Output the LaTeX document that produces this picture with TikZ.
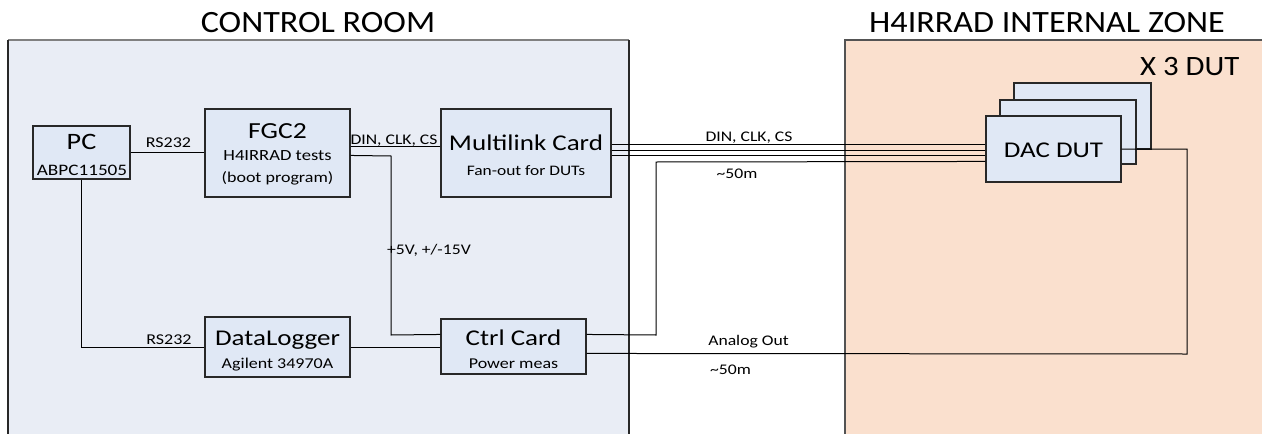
\documentclass[tikz,border=0pt]{standalone}
\usepackage{fontspec}
\setmainfont{Carlito}[FakeStretch=1.2]
\newfontfamily\titlefont{Carlito}[FakeStretch=1.1]
\usetikzlibrary{calc}
\definecolor{roomblue}{RGB}{233,237,245}
\definecolor{boxblue}{RGB}{224,232,245}
\definecolor{zoneorange}{RGB}{250,224,206}
\definecolor{edge}{RGB}{40,40,40}
\newcommand{\fs}[1]{\fontsize{#1}{#1}\selectfont}
\tikzset{
  unit/.style={draw=edge, line width=1.1pt, fill=boxblue, inner sep=0pt},
  wire/.style={draw=black, line width=1pt},
  lbl/.style={inner sep=0pt, anchor=base, font=\fs{14.7}},
  maintxt/.style={inner sep=0pt, anchor=base, font=\fs{22.5}},
  subtxt/.style={inner sep=0pt, anchor=base, font=\fs{15}},
  title/.style={inner sep=0pt, anchor=base, font=\titlefont\fs{31}},
}
\begin{document}
\begin{tikzpicture}[x=1pt,y=-1pt]
\useasboundingbox (0,0) rectangle (1262,434);
\clip (0,0) rectangle (1262,434);
% rooms
\fill[roomblue] (8,40) rectangle (629,440);
\draw[draw=gray, line width=1.2pt] (8,40) -- (629,40);
\draw[draw=edge, line width=1.2pt] (8,440) -- (8,40) (629,40) -- (629,440);
\fill[zoneorange] (845,40) rectangle (1270,440);
\draw[draw=edge!80, line width=1.2pt] (845,440) -- (845,40) -- (1270,40);
\node[title] (t1) at (318,32) {CONTROL ROOM};
\node[title] (t2) at (1047,32) {H4IRRAD INTERNAL ZONE};
\node[inner sep=0pt, font=\titlefont\fs{28}, anchor=base west] (x3) at (1140,75) {X 3 DUT};
% units
\node[unit, minimum width=97pt, minimum height=53pt] (pc) at (81.5,152.5) {};
\node[maintxt, font=\fs{23.5}] (pcT) at (81.5,149) {PC};
\node[subtxt, font=\fs{16}] (pcS) at (82,175) {ABPC11505};
\node[unit, minimum width=145pt, minimum height=88pt] (fgc) at (277.5,153) {};
\node[maintxt, font=\fs{23}] (fgcT) at (277.5,138) {FGC2};
\node[subtxt, font=\fs{15.5}] (fgcS) at (277.5,160) {H4IRRAD tests};
\node[subtxt] (fgcS2) at (277.5,182) {(boot program)};
\node[unit, minimum width=170pt, minimum height=88pt] (ml) at (526,153) {};
\node[maintxt] (mlT) at (526,150) {Multilink Card};
\node[subtxt, font=\fs{14.5}] (mlS) at (526,175) {Fan-out for DUTs};
\node[unit, minimum width=145pt, minimum height=60pt] (dl) at (277.5,347) {};
\node[maintxt] (dlT) at (277.5,345) {DataLogger};
\node[subtxt] (dlS) at (277.5,368) {Agilent 34970A};
\node[unit, minimum width=145pt, minimum height=55pt] (cc) at (513.5,346.5) {};
\node[maintxt] (ccT) at (513.5,345) {Ctrl Card};
\node[subtxt] (ccS) at (513.5,368) {Power meas};
\node[unit, minimum width=137pt, minimum height=66pt] (dut3) at (1082.5,116) {};
\node[unit, minimum width=136pt, minimum height=64pt] (dut2) at (1068,132) {};
\node[unit, minimum width=135pt, minimum height=66pt] (dut) at (1053.5,149) {};
\node[maintxt] (dutT) at (1053.5,157) {DAC DUT};
% connectors
\draw[wire] (pc.east) -- (pc.east -| fgc.west);
\node[lbl, font=\fs{15}] (rs1) at (168.5,147) {RS232};
\coordinate (fA) at ($(fgc.north east)+(0,38)$);
\draw[wire] (fA) -- (fA -| ml.west);
\node[lbl] (din1) at (394,144) {DIN, CLK, CS};
\coordinate (fB) at ($(fgc.north east)+(0,47)$);
\coordinate (cA) at ($(cc.north west)+(0,16)$);
\draw[wire] (fB) -- (391,156) -- (391,335) -- (cA);
\node[lbl, anchor=base west] (pw) at (387,254) {+5V, +/-15V};
\draw[wire] (pc.south) |- (dl.west);
\node[lbl, font=\fs{15}] (rs2) at (169,344) {RS232};
\draw[wire] (dl.east) -- (dl.east -| cc.west);
% bus
\foreach \dy/\n in {36/b1,42/b2,47/b3}{
  \coordinate (\n) at ($(ml.north east)+(0,\dy)$);
  \draw[wire] (\n) -- (\n -| dut.west);
}
\node[lbl] (din2) at (749,141) {DIN, CLK, CS};
\node[lbl] (d50a) at (737,178) {\textasciitilde50m};
\coordinate (cB) at ($(cc.north east)+(0,16)$);
\coordinate (dA) at ($(dut.north west)+(0,46)$);
\draw[wire] (cB) -- (656,335) -- (656,162) -- (dA);
\coordinate (cC) at ($(cc.north east)+(0,35)$);
\draw[wire] (cC) -- (1187,354) -- (1187,149) -- (dut.east);
\node[lbl] (ao) at (748.5,345) {Analog Out};
\node[lbl, anchor=base west] (d50b) at (710,374) {\textasciitilde50m};
\end{tikzpicture}
\end{document}
